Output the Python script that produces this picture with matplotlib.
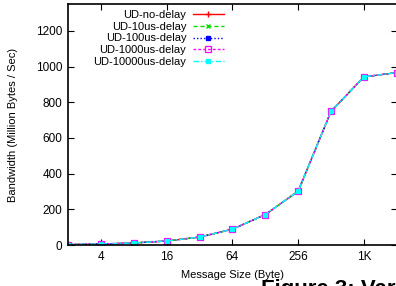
import numpy as np
import matplotlib
matplotlib.use("Agg")
import matplotlib.pyplot as plt

plt.rcParams['font.family'] = ['Liberation Sans', 'DejaVu Sans']

# message sizes (bytes) and bandwidth (million bytes / sec)
sizes = [2, 4, 8, 16, 32, 64, 128, 256, 512, 1024, 2048]
bw_no_delay = [3, 6, 12, 23, 45, 89, 171, 302, 749, 942, 966]
bw_10us = [3, 6, 12, 23, 45, 89, 171, 302, 749, 942, 966]
bw_100us = [3, 6, 12, 23, 45, 89, 171, 302, 749, 942, 966]
bw_1000us = [3, 6, 12, 23, 45, 89, 171, 302, 749, 942, 966]
bw_10000us = [3, 6, 12, 23, 45, 89, 171, 302, 749, 942, 966]

labels = ["UD-no-delay", "UD-10us-delay", "UD-100us-delay",
          "UD-1000us-delay", "UD-10000us-delay"]
xticks = [4, 16, 64, 256, 1024]
xticklabels = ["4", "16", "64", "256", "1K"]
yticks = [0, 200, 400, 600, 800, 1000, 1200]

fig = plt.figure(figsize=(3.96, 2.86), dpi=100)
ax = fig.add_axes([0.172, 0.143, 0.83, 0.843])

series = [bw_no_delay, bw_10us, bw_100us, bw_1000us, bw_10000us]
styles = [
    dict(color='#ff0000', ls='-', marker='+', ms=5, mew=1.0),
    dict(color='#00dd00', ls=(0, (3, 2)), marker='x', ms=3.5, mew=1.0),
    dict(color='#0000ff', ls=(0, (1, 1.5)), marker='s', ms=3),
    dict(color='#ff00ff', ls=(0, (2, 1.5)), marker='s', ms=3.8, mfc='none', mew=0.9),
    dict(color='#00ffff', ls=(0, (4, 1.5, 1, 1.5)), marker='s', ms=3),
]
for ys, lab, st in zip(series, labels, styles):
    ax.plot(sizes, ys, label=lab, lw=1.0, **st)

ax.set_xscale('log', base=2)
ax.set_xlim(2, 2048)
ax.set_ylim(0, 1350)
ax.set_xticks(xticks)
ax.set_xticklabels(xticklabels)
ax.set_yticks(yticks)
ax.minorticks_off()
ax.tick_params(direction='in', top=True, right=True, labelsize=8.5, length=4, pad=4)
for s in ax.spines.values():
    s.set_linewidth(1.2)

ax.set_xlabel("Message Size (Byte)", fontsize=8, labelpad=5)
ax.set_ylabel("Bandwidth (Million Bytes / Sec)", fontsize=8, labelpad=13)

ax.legend(loc='upper right', bbox_to_anchor=(0.493, 1.0), frameon=False,
          markerfirst=False, fontsize=8, labelspacing=0.15, handlelength=2.8,
          handletextpad=0.6, borderaxespad=0.15)

fig.text(0.66, -0.05, "Figure 3: Variation", fontsize=16, fontweight='bold',
         ha='left', va='bottom')

fig.savefig("out.png", dpi=100)
